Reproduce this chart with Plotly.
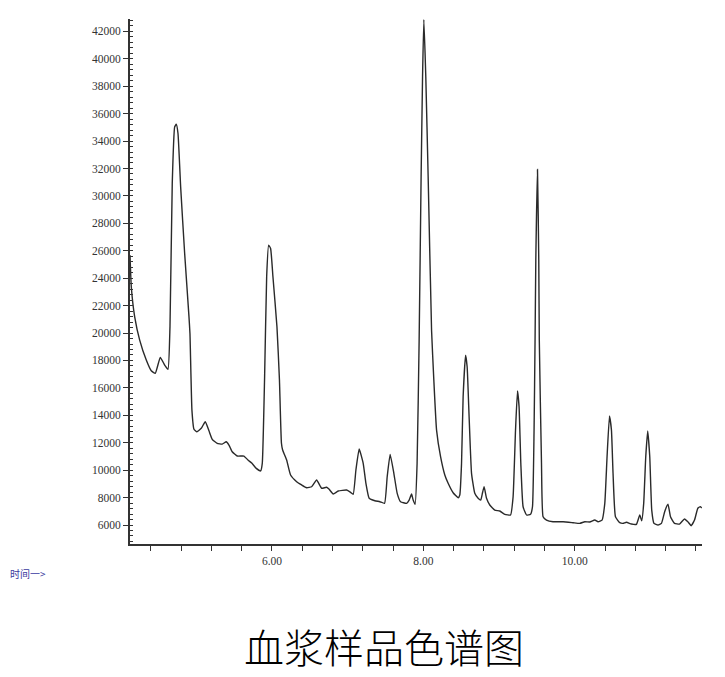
import plotly.graph_objects as go

# Retention time (min) and abundance
time_min = [
    4.125, 4.142, 4.187, 4.253, 4.340, 4.406, 4.459, 4.525, 4.583, 4.627,
    4.653, 4.683, 4.715, 4.736, 4.759, 4.794, 4.847, 4.904, 4.917, 4.943,
    4.970, 5.009, 5.066, 5.119, 5.168, 5.211, 5.277, 5.343, 5.396, 5.432,
    5.475, 5.541, 5.630, 5.683, 5.736, 5.792, 5.850, 5.872, 5.903, 5.930,
    5.956, 5.982, 6.013, 6.066, 6.099, 6.125, 6.141, 6.194, 6.246, 6.326,
    6.392, 6.458, 6.524, 6.590, 6.656, 6.722, 6.756, 6.809, 6.875, 6.986,
    7.039, 7.073, 7.109, 7.152, 7.205, 7.241, 7.284, 7.359, 7.425, 7.487,
    7.522, 7.561, 7.610, 7.654, 7.699, 7.778, 7.812, 7.844, 7.865, 7.891,
    7.917, 7.944, 7.970, 7.989, 8.006, 8.032, 8.063, 8.108, 8.138, 8.174,
    8.227, 8.283, 8.327, 8.393, 8.459, 8.481, 8.504, 8.525, 8.557, 8.578,
    8.604, 8.636, 8.679, 8.723, 8.758, 8.781, 8.802, 8.834, 8.877, 8.943,
    9.009, 9.075, 9.151, 9.185, 9.217, 9.243, 9.264, 9.287, 9.317, 9.362,
    9.415, 9.441, 9.462, 9.475, 9.485, 9.507, 9.524, 9.531, 9.560, 9.581,
    9.626, 9.713, 9.845, 9.977, 10.066, 10.132, 10.198, 10.264, 10.307, 10.360,
    10.396, 10.426, 10.458, 10.484, 10.505, 10.537, 10.594, 10.637, 10.682, 10.748,
    10.814, 10.858, 10.884, 10.910, 10.937, 10.963, 10.990, 11.016, 11.046, 11.099,
    11.144, 11.187, 11.231, 11.264, 11.317, 11.383, 11.449, 11.493, 11.537, 11.581,
    11.625, 11.657, 11.676,
]
abundance = [
    25680, 23370, 21180, 19485, 18030, 17250, 17060, 18220, 17660, 17350,
    20450, 30900, 35030, 35230, 34550, 30660, 25800, 21180, 19970, 14380,
    12980, 12800, 13050, 13530, 12870, 12250, 11955, 11900, 12070, 11830,
    11340, 11030, 11030, 10740, 10500, 10130, 9940, 10500, 16810, 24100,
    26410, 26170, 24100, 20450, 16570, 11980, 11470, 10740, 9645, 9160,
    8920, 8720, 8790, 9280, 8680, 8750, 8600, 8260, 8480, 8550,
    8380, 8240, 10010, 11540, 10500, 9040, 7950, 7770, 7700, 7580,
    9520, 11150, 9770, 8310, 7700, 7580, 7820, 8260, 7820, 7510,
    10500, 19485, 31390, 38680, 42850, 38680, 31390, 20210, 16570, 12920,
    10980, 9645, 9040, 8350, 7990, 8190, 10500, 15350, 18390, 17540,
    13890, 9770, 8310, 7950, 7820, 8350, 8790, 7950, 7460, 7090,
    7020, 6780, 6730, 8060, 12920, 15770, 14620, 10500, 7330, 6730,
    6780, 7330, 12920, 19485, 25320, 31930, 25320, 19485, 10500, 6600,
    6360, 6240, 6240, 6170, 6120, 6240, 6220, 6360, 6240, 6360,
    7580, 10980, 13950, 12920, 9770, 6600, 6170, 6120, 6200, 6070,
    6050, 6730, 6310, 7580, 10980, 12850, 10980, 7090, 6120, 6000,
    6120, 6970, 7510, 6600, 6120, 6070, 6440, 6240, 5950, 6360,
    7220, 7330, 7240,
]

x_range = [4.125, 11.68]
y_range = [4615, 42900]
title_text = "血浆样品色谱图"
axis_label_text = "时间一>"

fig = go.Figure()
fig.add_trace(go.Scatter(
    x=time_min, y=abundance, mode="lines",
    line=dict(color="#2a2a2a", width=1.4, shape="spline", smoothing=0.4),
    hoverinfo="skip", showlegend=False,
))

tick_font = dict(family="Liberation Serif, DejaVu Serif, serif", size=11.5, color="#333333")

fig.update_xaxes(
    range=x_range, showgrid=False, zeroline=False,
    showline=True, linecolor="#333333", linewidth=2,
    tick0=0, dtick=2, tickformat=".2f",
    ticks="outside", ticklen=5, tickwidth=1, tickcolor="#333333",
    tickfont=tick_font,
    minor=dict(tick0=0, dtick=0.4, ticks="outside", ticklen=5, tickwidth=1,
               tickcolor="#333333", showgrid=False),
)
fig.update_yaxes(
    range=y_range, showgrid=False, zeroline=False,
    showline=True, linecolor="#333333", linewidth=2,
    tick0=0, dtick=2000, tickformat="d",
    ticks="outside", ticklen=5, tickwidth=1, tickcolor="#333333",
    tickfont=tick_font,
    minor=dict(tick0=0, dtick=400, ticks="inside", ticklen=3, tickwidth=1,
               tickcolor="#333333", showgrid=False),
)

fig.add_annotation(
    text=title_text, xref="paper", yref="paper", x=0.444, y=-0.194,
    xanchor="center", yanchor="middle", showarrow=False,
    font=dict(family="Noto Sans CJK SC", size=40, color="#000000", weight=300),
)
fig.add_annotation(
    text=axis_label_text, xref="paper", yref="paper", x=-0.213, y=-0.056,
    xanchor="left", yanchor="middle", showarrow=False,
    font=dict(family="Noto Sans CJK SC", size=10, color="#3b3ba0"),
)

# The page body adds an 8px margin, so the figure is offset to line up with the window
fig.update_layout(
    width=709, height=669,
    margin=dict(l=122, r=15, t=11, b=133),
    paper_bgcolor="white", plot_bgcolor="white",
)

fig.write_html("out.html")
